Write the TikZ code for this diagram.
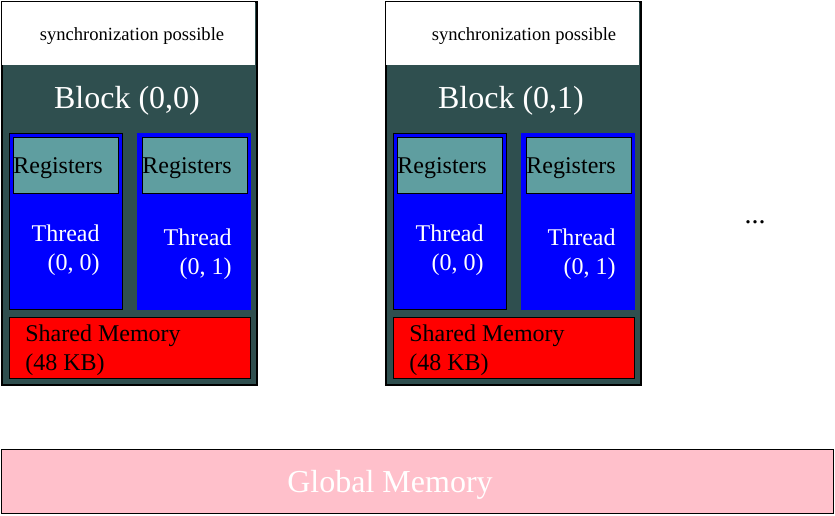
\documentclass[tikz,border=0pt]{standalone}
\usepackage{fontspec}
\setmainfont{Liberation Serif}
\usepackage{xcolor}
\usepackage{tikz}
\usetikzlibrary{positioning, calc}
\definecolor{slatebg}{HTML}{2F4F4F}
\definecolor{regcol}{HTML}{5F9EA0}
\definecolor{globcol}{HTML}{FFC0CB}
\tikzstyle{blockbox} = [rectangle, draw=black, line width=1pt, fill=slatebg, anchor=north west, inner sep=0pt, minimum width=127.5pt, minimum height=191.5pt]
\tikzstyle{syncbox} = [rectangle, fill=white, anchor=north west, inner sep=0pt, minimum width=126.5pt, minimum height=31.5pt]
\tikzstyle{threadbox} = [rectangle, draw=black, line width=0.5pt, fill=blue, anchor=north west, inner sep=0pt, minimum width=56.5pt, minimum height=88pt]
\tikzstyle{regbox} = [rectangle, draw=black, line width=0.5pt, fill=regcol, anchor=north west, inner sep=0pt, minimum width=52.5pt, minimum height=28pt]
\tikzstyle{sharedbox} = [rectangle, draw=black, line width=0.5pt, fill=red, anchor=north west, inner sep=0pt, minimum width=120.5pt, minimum height=30.5pt]
\tikzstyle{lbl} = [inner sep=0pt, font=\fontsize{12}{14.5}\selectfont]

\begin{document}
\begin{tikzpicture}[x=0.5pt, y=-0.5pt]
          \useasboundingbox (0,0) rectangle (835,515);

          % first block
          \node[blockbox] (blk00) at (1,1) {};
          \node[syncbox] (sync00) at (2,2) {};
          \node[inner sep=0pt, font=\fontsize{9.3}{11}\selectfont] (synclbl00) at (132,36) {synchronization possible};
          \node[inner sep=0pt, white, font=\fontsize{16}{19}\selectfont] (blklbl00) at (127,101) {Block (0,0)};
          \node[threadbox] (th00) at (9,133) {};
          \node[regbox] (reg00) at (13,137) {};
          \node[threadbox, draw=blue] (th01) at (137,133) {};
          \node[regbox] (reg01) at (142,137) {};
          \node[lbl, anchor=west] (reglbl00) at ($(reg00.west)+(0,3)$) {Registers};
          \node[lbl, anchor=west] (reglbl01) at ($(reg01.west)+(0,3)$) {Registers};
          \node[lbl, white, align=right, anchor=east] (thlbl00) at (100,250.5) {Thread\\(0, 0)};
          \node[lbl, white, align=right, anchor=east] (thlbl01) at (232,254.5) {Thread\\(0, 1)};
          \node[sharedbox] (sh0) at (9,317) {};
          \node[lbl, align=left, anchor=west] (shlbl0) at (25,350.5) {Shared Memory\\(48 KB)};

          % second block
          \node[blockbox] (blk01) at ($(blk00.north west)+(384,0)$) {};
          \node[syncbox] (sync01) at ($(sync00.north west)+(384,0)$) {};
          \node[inner sep=0pt, font=\fontsize{9.3}{11}\selectfont] (synclbl01) at ($(synclbl00)+(392,0)$) {synchronization possible};
          \node[inner sep=0pt, white, font=\fontsize{16}{19}\selectfont] (blklbl01) at ($(blklbl00)+(384,0)$) {Block (0,1)};
          \node[threadbox] (th10) at ($(th00.north west)+(384,0)$) {};
          \node[regbox] (reg10) at ($(reg00.north west)+(384,0)$) {};
          \node[threadbox, draw=blue] (th11) at ($(th01.north west)+(384,0)$) {};
          \node[regbox] (reg11) at ($(reg01.north west)+(384,0)$) {};
          \node[lbl, anchor=west] (reglbl10) at ($(reg10.west)+(0,3)$) {Registers};
          \node[lbl, anchor=west] (reglbl11) at ($(reg11.west)+(0,3)$) {Registers};
          \node[lbl, white, align=right, anchor=east] (thlbl10) at ($(thlbl00.east)+(384,0)$) {Thread\\(0, 0)};
          \node[lbl, white, align=right, anchor=east] (thlbl11) at ($(thlbl01.east)+(384,0)$) {Thread\\(0, 1)};
          \node[sharedbox] (sh1) at ($(sh0.north west)+(384,0)$) {};
          \node[lbl, align=left, anchor=west] (shlbl1) at ($(shlbl0.west)+(384,0)$) {Shared Memory\\(48 KB)};

          \node[inner sep=0pt, font=\fontsize{14}{17}\selectfont] (more) at (755,222) {...};

          % global memory
          \node[rectangle, draw=black, line width=0.5pt, fill=globcol, anchor=north west, inner sep=0pt, minimum width=416pt, minimum height=32pt] (glob) at (1,449) {};
          \node[inner sep=0pt, white, font=\fontsize{16}{19}\selectfont] (globlbl) at (390,485) {Global Memory};
      \end{tikzpicture}
\end{document}
